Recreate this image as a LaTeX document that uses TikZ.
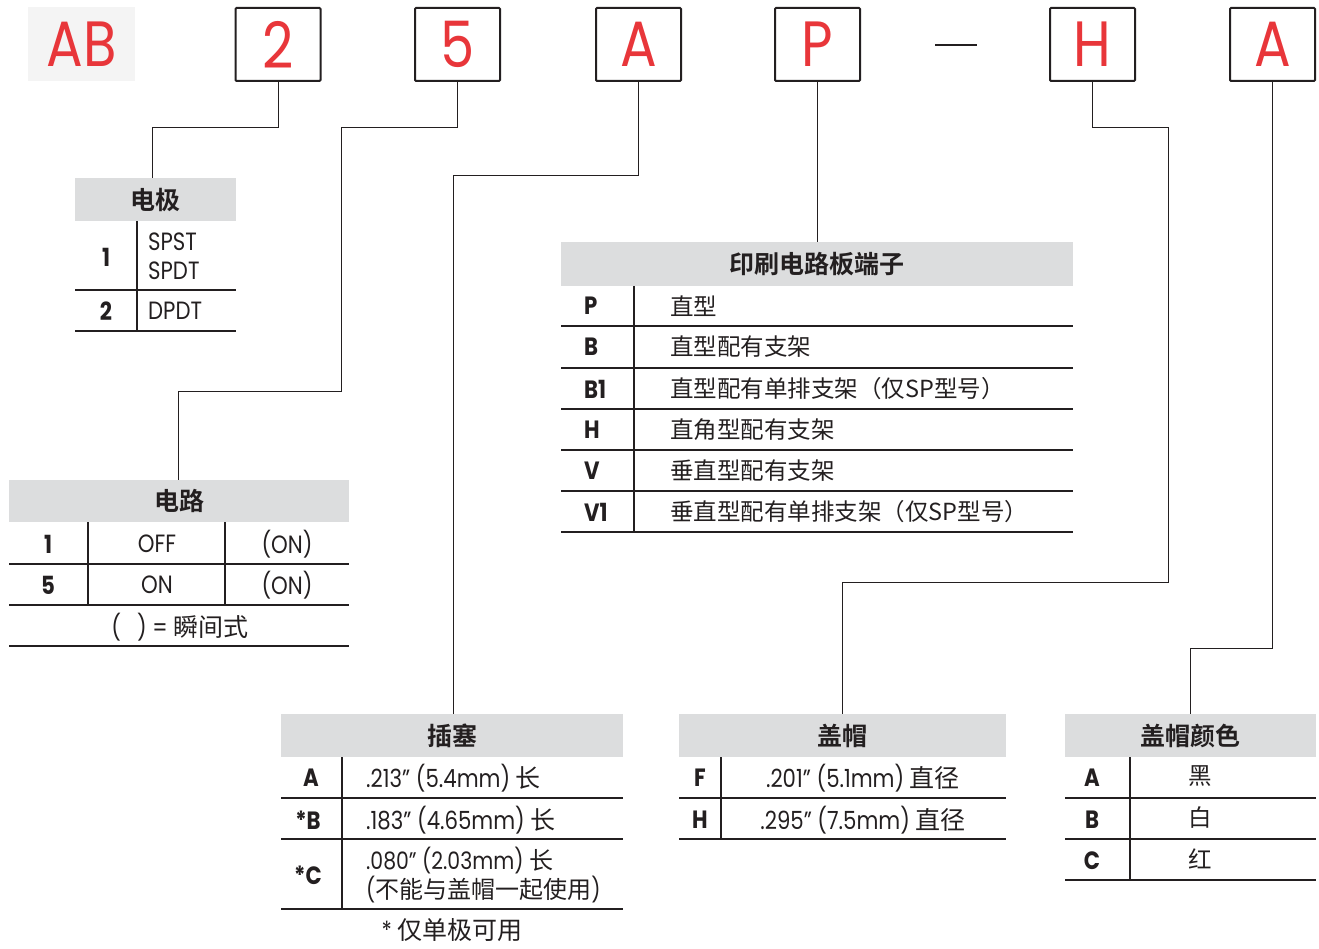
\documentclass[tikz,border=0pt]{standalone}
\usepackage{fontspec}
\setmainfont{Poppins}[FakeStretch=0.85]
\newfontfamily\cjk{Noto Sans CJK SC}[BoldFont={Noto Sans CJK SC Bold}]
\newcommand\zhs[1]{{\cjk #1}}
\definecolor{ink}{HTML}{231F20}
\definecolor{hdrgray}{HTML}{DCDDDE}
\definecolor{abgray}{HTML}{F4F4F4}
\definecolor{codered}{HTML}{E8363A}
\begin{document}
\begin{tikzpicture}[x=1pt,y=-1pt,
  letterbox/.style={draw=ink,line width=2pt,rounded corners=1pt,minimum width=85pt,minimum height=73pt,inner sep=0pt,text=codered,font=\fontsize{64}{64}\selectfont},
  hdr/.style={fill=hdrgray,draw=none,inner sep=0pt,anchor=north west,text=ink,font=\fontsize{25}{30}\selectfont\cjk\bfseries},
  conn/.style={draw=ink,line width=1pt},
  rule/.style={draw=ink,line width=1.4pt},
  code/.style={inner sep=0pt,text=ink,font=\fontsize{25}{28}\selectfont\bfseries},
  txt/.style={inner sep=0pt,text=ink,font=\fontsize{25}{28}\selectfont},
  zh/.style={inner sep=0pt,text=ink,font=\fontsize{23.5}{28}\selectfont\cjk}]
\useasboundingbox (0,0) rectangle (1319,949);
% ---------- code boxes ----------
\node[fill=abgray,minimum width=107pt,minimum height=74pt,inner sep=0pt,text=codered,font=\fontsize{64}{64}\selectfont] (ab) at (81.5,44) {AB};
\node[letterbox] (b2) at (278,44.5) {2};
\node[letterbox] (b5) at (457.5,44.5) {5};
\node[letterbox] (bA) at (638.5,44.5) {A};
\node[letterbox] (bP) at (817.5,44.5) {P};
\node[inner sep=0pt,minimum width=42pt,minimum height=2.5pt,fill=ink] (dash) at (956,45) {};
\node[letterbox] (bH) at (1092.5,44.5) {H};
\node[letterbox] (bA2) at (1272.5,44.5) {A};
% ---------- table headers ----------
\node[hdr,minimum width=161pt,minimum height=43pt] (t1h) at (75,178) {电极};
\node[hdr,minimum width=340pt,minimum height=42pt] (t2h) at (9,480) {电路};
\node[hdr,minimum width=512pt,minimum height=44pt] (t3h) at (561,242) {印刷电路板端子};
\node[hdr,minimum width=342pt,minimum height=43pt] (t4h) at (281,714) {插塞};
\node[hdr,minimum width=327pt,minimum height=43pt] (t5h) at (679,714) {盖帽};
\node[hdr,minimum width=251pt,minimum height=43pt] (t6h) at (1065,714) {盖帽颜色};
% ---------- connectors ----------
\coordinate (k1) at (152,128);
\draw[conn] (b2.south) |- (k1) -- (k1 |- t1h.north);
\coordinate (k2) at (341,128);
\coordinate (k3) at (178,391);
\draw[conn] (b5.south) |- (k2) |- (k3) -- (k3 |- t2h.north);
\coordinate (k4) at (453,176);
\draw[conn] (bA.south) |- (k4) -- (k4 |- t4h.north);
\draw[conn] (bP.south) -- (bP.south |- t3h.north);
\coordinate (k5) at (1168,128);
\coordinate (k6) at (842,582);
\draw[conn] (bH.south) |- (k5) |- (k6) -- (k6 |- t5h.north);
\coordinate (k7) at (1190,648);
\draw[conn] (bA2.south) |- (k7) -- (k7 |- t6h.north);
% ---------- table 1: 电极 ----------
\draw[rule] (137,221) -- (137,331);
\draw[rule] (75,290) -- (236,290);
\draw[rule] (75,331) -- (236,331);
\node[code] (c11) at (106,257) {1};
\node[txt,anchor=west] (s11) at (148,242) {SPST};
\node[txt,anchor=west] (s12) at (148,271) {SPDT};
\node[code] (c12) at (106,311) {2};
\node[txt,anchor=west] (s13) at (148,311) {DPDT};
% ---------- table 2: 电路 ----------
\draw[rule] (88,522) -- (88,605);
\draw[rule] (225,522) -- (225,605);
\draw[rule] (9,564) -- (349,564);
\draw[rule] (9,605) -- (349,605);
\draw[rule] (9,646) -- (349,646);
\node[code] (c21) at (48,544) {1};
\node[txt] (s21) at (157,544) {OFF};
\node[txt] (s22) at (287,544) {(ON)};
\node[code] (c22) at (48,585) {5};
\node[txt] (s23) at (157,585) {ON};
\node[txt] (s24) at (287,585) {(ON)};
\node[txt] (s25) at (180,627) {(\hspace{16pt}) = \zhs{瞬间式}};
% ---------- table 3: PCB ----------
\draw[rule] (634,286) -- (634,532);
\foreach \yy in {326,368,409,450,491,532} \draw[rule] (561,\yy) -- (1073,\yy);
\node[code,anchor=west] (c31) at (584,306) {P};
\node[zh,anchor=west] (s31) at (670,306) {直型};
\node[code,anchor=west] (c32) at (584,347) {B};
\node[zh,anchor=west] (s32) at (670,347) {直型配有支架};
\node[code,anchor=west] (c33) at (584,389) {B1};
\node[zh,anchor=west] (s33) at (670,389) {直型配有单排支架（仅SP型号）};
\node[code,anchor=west] (c34) at (584,430) {H};
\node[zh,anchor=west] (s34) at (670,430) {直角型配有支架};
\node[code,anchor=west] (c35) at (584,471) {V};
\node[zh,anchor=west] (s35) at (670,471) {垂直型配有支架};
\node[code,anchor=west] (c36) at (584,512) {V1};
\node[zh,anchor=west] (s36) at (670,512) {垂直型配有单排支架（仅SP型号）};
% ---------- table 4: 插塞 ----------
\draw[rule] (342,757) -- (342,909);
\foreach \yy in {798,839,909} \draw[rule] (281,\yy) -- (623,\yy);
\node[code] (c41) at (311,778) {A};
\node[txt,anchor=west] (s41) at (366,778) {.213” (5.4mm) \zhs{长}};
\node[code] (c42) at (308,820) {*B};
\node[txt,anchor=west] (s42) at (366,820) {.183” (4.65mm) \zhs{长}};
\node[code] (c43) at (308,875) {*C};
\node[txt,anchor=west,font=\fontsize{24}{27}\selectfont] (s43) at (366,861) {.080” (2.03mm) \zhs{长}};
\node[txt,anchor=west,font=\fontsize{24}{27}\selectfont] (s44) at (366,890) {(\zhs{不能与盖帽一起使用})};
\node[txt] (s45) at (452,930) {* \zhs{仅单极可用}};
% ---------- table 5: 盖帽 ----------
\draw[rule] (721,757) -- (721,839);
\foreach \yy in {798,839} \draw[rule] (679,\yy) -- (1006,\yy);
\node[code] (c51) at (700,778) {F};
\node[txt] (s51) at (863,778) {.201” (5.1mm) \zhs{直径}};
\node[code] (c52) at (700,820) {H};
\node[txt] (s52) at (863,820) {.295” (7.5mm) \zhs{直径}};
% ---------- table 6: 盖帽颜色 ----------
\draw[rule] (1130,757) -- (1130,880);
\foreach \yy in {798,839,880} \draw[rule] (1065,\yy) -- (1316,\yy);
\node[code] (c61) at (1092,778) {A};
\node[zh] (s61) at (1200,776) {黑};
\node[code] (c62) at (1092,820) {B};
\node[zh] (s62) at (1200,818) {白};
\node[code] (c63) at (1092,861) {C};
\node[zh] (s63) at (1200,859) {红};
\end{tikzpicture}
\end{document}
